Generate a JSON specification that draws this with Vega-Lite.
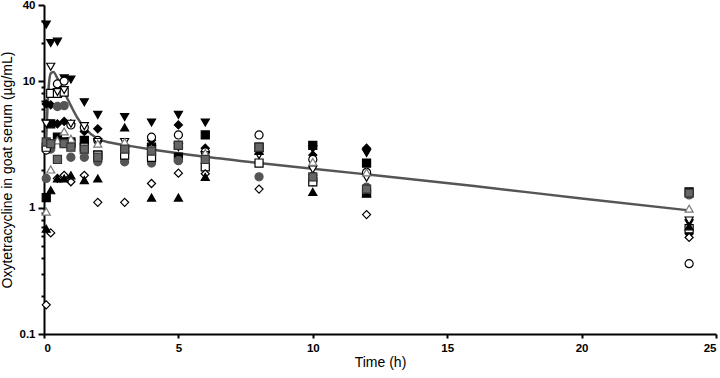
{
  "$schema": "https://vega.github.io/schema/vega-lite/v6.json",
  "width": 672,
  "height": 329,
  "autosize": "none",
  "padding": {"left": 44, "top": 5, "right": 4, "bottom": 44},
  "background": "white",
  "config": {"view": {"stroke": null}, "font": "Liberation Sans"},
  "datasets": {
    "obs": [
      {"g":"A","t":0.083,"c":28},{"g":"A","t":0.25,"c":20},{"g":"A","t":0.5,"c":20.5},{"g":"A","t":0.75,"c":10.5},{"g":"A","t":1,"c":10.3},{"g":"A","t":1.5,"c":6.8},{"g":"A","t":2,"c":5.4},{"g":"A","t":3,"c":5.2},{"g":"A","t":4,"c":4.7},{"g":"A","t":5,"c":5.4},{"g":"A","t":6,"c":4.7},{"g":"A","t":8,"c":3.0},{"g":"A","t":10,"c":2.9},{"g":"A","t":12,"c":2.7},{"g":"A","t":24,"c":0.75},
      {"g":"B","t":0.083,"c":6.6},{"g":"B","t":0.25,"c":6.5},{"g":"B","t":0.5,"c":4.6},{"g":"B","t":0.75,"c":4.8},{"g":"B","t":1,"c":4.6},{"g":"B","t":1.5,"c":4.0},{"g":"B","t":2,"c":4.2},{"g":"B","t":3,"c":3.0},{"g":"B","t":4,"c":3.4},{"g":"B","t":5,"c":4.5},{"g":"B","t":6,"c":2.95},{"g":"B","t":8,"c":3.0},{"g":"B","t":10,"c":2.6},{"g":"B","t":12,"c":2.95},{"g":"B","t":24,"c":0.62},
      {"g":"C","t":0.083,"c":1.2},{"g":"C","t":0.25,"c":4.6},{"g":"C","t":0.5,"c":3.6},{"g":"C","t":0.75,"c":3.3},{"g":"C","t":1,"c":3.3},{"g":"C","t":1.5,"c":3.4},{"g":"C","t":2,"c":2.6},{"g":"C","t":3,"c":2.9},{"g":"C","t":4,"c":3.0},{"g":"C","t":5,"c":2.5},{"g":"C","t":6,"c":3.75},{"g":"C","t":8,"c":3.0},{"g":"C","t":10,"c":3.1},{"g":"C","t":12,"c":2.25},{"g":"C","t":24,"c":1.33},
      {"g":"D","t":0.083,"c":1.7},{"g":"D","t":0.25,"c":2.9},{"g":"D","t":0.5,"c":6.3},{"g":"D","t":0.75,"c":6.4},{"g":"D","t":1,"c":2.5},{"g":"D","t":1.5,"c":2.5},{"g":"D","t":2,"c":2.3},{"g":"D","t":3,"c":2.3},{"g":"D","t":4,"c":2.25},{"g":"D","t":5,"c":2.35},{"g":"D","t":6,"c":2.5},{"g":"D","t":8,"c":1.75},{"g":"D","t":10,"c":1.6},{"g":"D","t":12,"c":1.45},{"g":"D","t":24,"c":1.26},
      {"g":"E","t":0.083,"c":2.85},{"g":"E","t":0.25,"c":3.2},{"g":"E","t":0.5,"c":9.5},{"g":"E","t":0.75,"c":10},{"g":"E","t":1,"c":4.5},{"g":"E","t":1.5,"c":4.3},{"g":"E","t":2,"c":3.4},{"g":"E","t":3,"c":3.0},{"g":"E","t":4,"c":3.6},{"g":"E","t":5,"c":3.75},{"g":"E","t":6,"c":2.75},{"g":"E","t":8,"c":3.75},{"g":"E","t":10,"c":2.4},{"g":"E","t":12,"c":1.9},{"g":"E","t":24,"c":0.36},
      {"g":"F","t":0.083,"c":3.0},{"g":"F","t":0.25,"c":8.0},{"g":"F","t":0.5,"c":8.0},{"g":"F","t":0.75,"c":8.2},{"g":"F","t":1,"c":3.2},{"g":"F","t":1.5,"c":3.0},{"g":"F","t":2,"c":2.6},{"g":"F","t":3,"c":2.6},{"g":"F","t":4,"c":2.5},{"g":"F","t":5,"c":3.1},{"g":"F","t":6,"c":2.1},{"g":"F","t":8,"c":2.25},{"g":"F","t":10,"c":1.6},{"g":"F","t":12,"c":1.3},{"g":"F","t":24,"c":0.68},
      {"g":"G","t":0.083,"c":0.17},{"g":"G","t":0.25,"c":0.63},{"g":"G","t":0.5,"c":1.7},{"g":"G","t":0.75,"c":1.8},{"g":"G","t":1,"c":1.6},{"g":"G","t":1.5,"c":1.8},{"g":"G","t":2,"c":1.1},{"g":"G","t":3,"c":1.1},{"g":"G","t":4,"c":1.55},{"g":"G","t":5,"c":1.87},{"g":"G","t":6,"c":1.85},{"g":"G","t":8,"c":1.4},{"g":"G","t":10,"c":1.8},{"g":"G","t":12,"c":0.88},{"g":"G","t":24,"c":0.58},
      {"g":"H","t":0.083,"c":4.6},{"g":"H","t":0.25,"c":13},{"g":"H","t":0.5,"c":8.2},{"g":"H","t":0.75,"c":8.5},{"g":"H","t":1,"c":4.6},{"g":"H","t":1.5,"c":4.4},{"g":"H","t":2,"c":3.3},{"g":"H","t":3,"c":3.3},{"g":"H","t":4,"c":2.9},{"g":"H","t":5,"c":3.0},{"g":"H","t":6,"c":2.6},{"g":"H","t":8,"c":2.6},{"g":"H","t":10,"c":2.0},{"g":"H","t":12,"c":1.72},{"g":"H","t":24,"c":0.79},
      {"g":"I","t":0.083,"c":0.93},{"g":"I","t":0.25,"c":2.0},{"g":"I","t":0.5,"c":3.4},{"g":"I","t":0.75,"c":4.0},{"g":"I","t":1,"c":3.5},{"g":"I","t":1.5,"c":2.85},{"g":"I","t":2,"c":3.2},{"g":"I","t":3,"c":3.3},{"g":"I","t":4,"c":2.9},{"g":"I","t":5,"c":3.2},{"g":"I","t":6,"c":2.7},{"g":"I","t":8,"c":2.85},{"g":"I","t":10,"c":2.3},{"g":"I","t":12,"c":1.9},{"g":"I","t":24,"c":0.98},
      {"g":"J","t":0.083,"c":0.68},{"g":"J","t":0.25,"c":1.37},{"g":"J","t":0.5,"c":1.7},{"g":"J","t":0.75,"c":1.7},{"g":"J","t":1,"c":1.8},{"g":"J","t":1.5,"c":1.65},{"g":"J","t":2,"c":1.7},{"g":"J","t":3,"c":4.3},{"g":"J","t":4,"c":1.2},{"g":"J","t":5,"c":1.2},{"g":"J","t":6,"c":1.75},{"g":"J","t":8,"c":2.8},{"g":"J","t":10,"c":1.33},{"g":"J","t":12,"c":1.3},{"g":"J","t":24,"c":0.71},
      {"g":"K","t":0.083,"c":3.3},{"g":"K","t":0.25,"c":3.2},{"g":"K","t":0.5,"c":2.4},{"g":"K","t":0.75,"c":3.2},{"g":"K","t":1,"c":3.0},{"g":"K","t":1.5,"c":2.9},{"g":"K","t":2,"c":2.5},{"g":"K","t":3,"c":2.9},{"g":"K","t":4,"c":2.8},{"g":"K","t":5,"c":3.1},{"g":"K","t":6,"c":2.4},{"g":"K","t":8,"c":3.0},{"g":"K","t":10,"c":1.75},{"g":"K","t":12,"c":1.4},{"g":"K","t":24,"c":1.3}
    ],
    "fit": [
      {"t":0.083,"c":3.5},{"t":0.15,"c":7.5},{"t":0.25,"c":11.5},{"t":0.35,"c":11.8},{"t":0.5,"c":10.5},{"t":0.75,"c":8.2},{"t":1,"c":6.4},{"t":1.25,"c":5.1},{"t":1.5,"c":4.3},{"t":2,"c":3.5},{"t":2.5,"c":3.25},{"t":3,"c":3.12},{"t":4,"c":2.88},{"t":6,"c":2.52},{"t":8,"c":2.25},{"t":10,"c":2.03},{"t":12,"c":1.83},{"t":16,"c":1.48},{"t":20,"c":1.18},{"t":24,"c":0.95}
    ]
  },
  "encoding": {
    "x": {"field": "t", "type": "quantitative",
      "scale": {"domain": [0, 25], "nice": false, "zero": false},
      "axis": {"title": "Time (h)", "values": [0,5,10,15,20,25], "grid": false,
        "domainColor": "black", "domainWidth": 2, "tickColor": "black", "tickWidth": 2, "tickSize": 4,
        "labelFont": "Liberation Sans", "labelFontWeight": "bold", "labelFontSize": 11.5, "labelColor": "black", "labelPadding": 4,
        "titleFont": "Liberation Sans", "titleFontWeight": "normal", "titleFontSize": 14, "titleColor": "black", "titlePadding": 2}},
    "y": {"field": "c", "type": "quantitative",
      "scale": {"type": "log", "domain": [0.1, 40], "nice": false},
      "axis": {"title": "Oxytetracycline in goat serum (µg/mL)", "grid": false,
        "values": [0.1,0.2,0.3,0.4,0.5,0.6,0.7,0.8,0.9,1,2,3,4,5,6,7,8,9,10,20,30,40],
        "labelExpr": "(datum.value==0.1||datum.value==1||datum.value==10||datum.value==40) ? datum.label : ''",
        "tickSize": {"condition": {"test": "datum.value==0.1||datum.value==1||datum.value==10||datum.value==40", "value": 6}, "value": 3},
        "domainColor": "black", "domainWidth": 2, "tickColor": "black", "tickWidth": 2,
        "labelFont": "Liberation Sans", "labelFontWeight": "bold", "labelFontSize": 11.5, "labelColor": "black", "labelPadding": 3,
        "titleFont": "Liberation Sans", "titleFontWeight": "normal", "titleFontSize": 14, "titleColor": "black", "titlePadding": 5}}
  },
  "layer": [
    {"data": {"name": "fit"}, "mark": {"type": "line", "color": "#555555", "strokeWidth": 2.5, "interpolate": "monotone"}},
    {"data": {"name": "obs"}, "mark": {"type": "point", "filled": true, "size": 65, "strokeWidth": 1.2, "opacity": 1},
      "encoding": {
        "shape": {"field": "g", "type": "nominal", "legend": null,
          "scale": {"domain": ["A","B","C","D","E","F","G","H","I","J","K"],
            "range": ["triangle-down","diamond","square","circle","circle","square","diamond","triangle-down","triangle-up","triangle-up","square"]}},
        "fill": {"field": "g", "type": "nominal", "legend": null,
          "scale": {"domain": ["A","B","C","D","E","F","G","H","I","J","K"],
            "range": ["black","black","black","#555555","white","white","white","white","white","black","#666666"]}},
        "stroke": {"field": "g", "type": "nominal", "legend": null,
          "scale": {"domain": ["A","B","C","D","E","F","G","H","I","J","K"],
            "range": ["black","black","black","#555555","black","black","black","black","#777777","black","#333333"]}}
      }}
  ]
}
